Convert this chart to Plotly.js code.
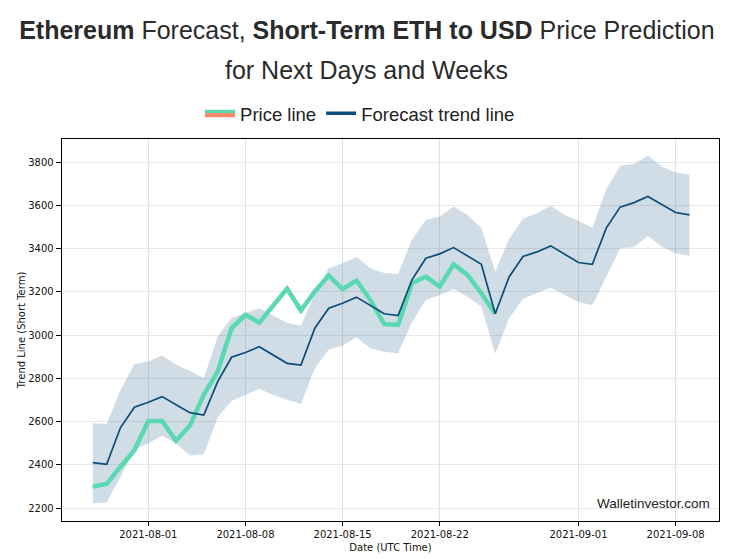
<!DOCTYPE html>
<html>
<head>
<meta charset="utf-8">
<script src="https://cdn.plot.ly/plotly-3.0.1.min.js"></script>
<style>
  html, body { margin: 0; padding: 0; background: #ffffff; }
  #chart { width: 755px; height: 559px; }
</style>
</head>
<body>
<div id="chart"></div>
<script>
// ---- Data ----
const dates = [
  "2021-07-28","2021-07-29","2021-07-30","2021-07-31","2021-08-01","2021-08-02","2021-08-03",
  "2021-08-04","2021-08-05","2021-08-06","2021-08-07","2021-08-08","2021-08-09","2021-08-10",
  "2021-08-11","2021-08-12","2021-08-13","2021-08-14","2021-08-15","2021-08-16","2021-08-17",
  "2021-08-18","2021-08-19","2021-08-20","2021-08-21","2021-08-22","2021-08-23","2021-08-24",
  "2021-08-25","2021-08-26","2021-08-27","2021-08-28","2021-08-29","2021-08-30","2021-08-31",
  "2021-09-01","2021-09-02","2021-09-03","2021-09-04","2021-09-05","2021-09-06","2021-09-07",
  "2021-09-08","2021-09-09"
];

const priceValues = [
  2300, 2312, 2392, 2468, 2603, 2603, 2512, 2582, 2724, 2832,
  3032, 3094, 3058, 3137, 3215, 3114, 3202, 3276, 3213, 3253,
  3163, 3051, 3048, 3240, 3271, 3225, 3328, 3279, 3194, 3099
];

const forecastValues = [
  2411, 2403, 2573, 2667, 2690, 2716, 2678, 2642, 2631, 2785,
  2898, 2920, 2947, 2909, 2870, 2862, 3032, 3125, 3148, 3176,
  3137, 3099, 3091, 3256, 3356, 3376, 3405, 3367, 3328, 3099,
  3269, 3364, 3385, 3413, 3375, 3336, 3328, 3495, 3592, 3613,
  3641, 3603, 3567, 3556
];

const upperValues = [
  2593, 2590, 2745, 2867, 2878, 2906, 2863, 2836, 2801, 2994,
  3079, 3102, 3125, 3091, 3058, 3044, 3194, 3310, 3333, 3361,
  3310, 3287, 3283, 3441, 3533, 3549, 3595, 3556, 3495, 3294,
  3445, 3538, 3564, 3598, 3556, 3529, 3495, 3675, 3783, 3792,
  3829, 3780, 3752, 3743
];

const lowerValues = [
  2223, 2228, 2346, 2470, 2501, 2535, 2500, 2444, 2450, 2621,
  2696, 2724, 2752, 2724, 2701, 2682, 2847, 2934, 2951, 2991,
  2940, 2924, 2917, 3060, 3163, 3186, 3213, 3178, 3132, 2914,
  3077, 3169, 3194, 3220, 3186, 3153, 3138, 3271, 3402, 3407,
  3459, 3410, 3379, 3367
];

const xTickVals = ["2021-08-01","2021-08-08","2021-08-15","2021-08-22","2021-09-01","2021-09-08"];
const xTickText = ["2021-08-01","2021-08-08","2021-08-15","2021-08-22","2021-09-01","2021-09-08"];
const yTickVals = [2200, 2400, 2600, 2800, 3000, 3200, 3400, 3600, 3800];

const titleLine1 = "<b>Ethereum</b> Forecast, <b>Short-Term ETH to USD</b> Price Prediction";
const titleLine2 = "for Next Days and Weeks";

// ---- Styles ----
const GREEN = "#5ad8b2";
const SALMON = "#f58a6c";
const BLUE = "#0b4d78";
const BAND = "rgba(11,77,120,0.19)";

const priceDates = dates.slice(0, priceValues.length);

const traces = [
  { x: dates, y: upperValues, type: "scatter", mode: "lines",
    line: { width: 0, color: BAND }, showlegend: false, hoverinfo: "skip" },
  { x: dates, y: lowerValues, type: "scatter", mode: "lines", fill: "tonexty",
    fillcolor: BAND, line: { width: 0, color: BAND }, showlegend: false, hoverinfo: "skip" },
  { x: priceDates, y: priceValues, type: "scatter", mode: "lines",
    line: { color: GREEN, width: 4.5 }, showlegend: false, name: "Price line" },
  { x: dates, y: forecastValues, type: "scatter", mode: "lines",
    line: { color: BLUE, width: 1.7 }, showlegend: false, name: "Forecast trend line" },
  // legend entries
  { x: [priceDates[0]], y: [priceValues[0]], type: "scatter", mode: "lines", fill: "toself",
    fillcolor: SALMON, line: { color: GREEN, width: 3.2 }, name: "Price line", hoverinfo: "skip" },
  { x: [dates[0]], y: [forecastValues[0]], type: "scatter", mode: "lines",
    line: { color: BLUE, width: 3.6 }, name: "Forecast trend line", hoverinfo: "skip" }
];

const tickFont = { family: "DejaVu Sans", size: 10, color: "#111" };

const layout = {
  width: 755, height: 559,
  paper_bgcolor: "#ffffff", plot_bgcolor: "#ffffff",
  margin: { l: 62, r: 36, t: 139, b: 38 },
  title: {
    text: titleLine1,
    font: { family: "Liberation Sans, Arial, sans-serif", size: 25, color: "#2b2b2b" },
    x: 0.486, xanchor: "center", xref: "container",
    y: 0.946, yanchor: "middle", yref: "container"
  },
  showlegend: true,
  legend: {
    orientation: "h", x: 0.2101, xanchor: "left", y: 1.066, yanchor: "middle",
    font: { family: "Liberation Sans, Arial, sans-serif", size: 18.5, color: "#222" },
    bgcolor: "rgba(0,0,0,0)", itemwidth: 30, tracegroupgap: 0, traceorder: "normal"
  },
  xaxis: {
    type: "date",
    range: ["2021-07-25 18:45", "2021-09-11 03:00"],
    tickvals: xTickVals, ticktext: xTickText,
    tickfont: tickFont,
    ticks: "outside", ticklen: 4, tickwidth: 1, tickcolor: "#000",
    showline: true, linecolor: "#000", linewidth: 1.3, mirror: true,
    showgrid: true, gridcolor: "#e2e2e2", gridwidth: 1,
    zeroline: false,
    title: { text: "Date (UTC Time)", font: { family: "DejaVu Sans", size: 10, color: "#111" }, standoff: 4 }
  },
  yaxis: {
    range: [2141, 3907],
    tickvals: yTickVals,
    tickfont: tickFont,
    ticks: "outside", ticklen: 5, tickwidth: 1, tickcolor: "#000",
    showline: true, linecolor: "#000", linewidth: 1.3, mirror: true,
    showgrid: true, gridcolor: "#e8e8e8", gridwidth: 1,
    zeroline: false,
    title: { text: "Trend Line (Short Term)", font: { family: "DejaVu Sans", size: 10, color: "#111" }, standoff: 0 }
  },
  annotations: [
    { text: titleLine2, xref: "paper", yref: "paper", x: 0.4642, y: 1.1806,
      xanchor: "center", yanchor: "middle", showarrow: false,
      font: { family: "Liberation Sans, Arial, sans-serif", size: 25, color: "#2b2b2b" } },
    { text: "Walletinvestor.com", xref: "paper", yref: "paper", x: 0.989, y: 0.047,
      xanchor: "right", yanchor: "middle", showarrow: false,
      font: { family: "Liberation Sans, Arial, sans-serif", size: 13.5, color: "#222" } }
  ]
};

Plotly.newPlot("chart", traces, layout, { displayModeBar: false, staticPlot: true });
</script>
</body>
</html>
